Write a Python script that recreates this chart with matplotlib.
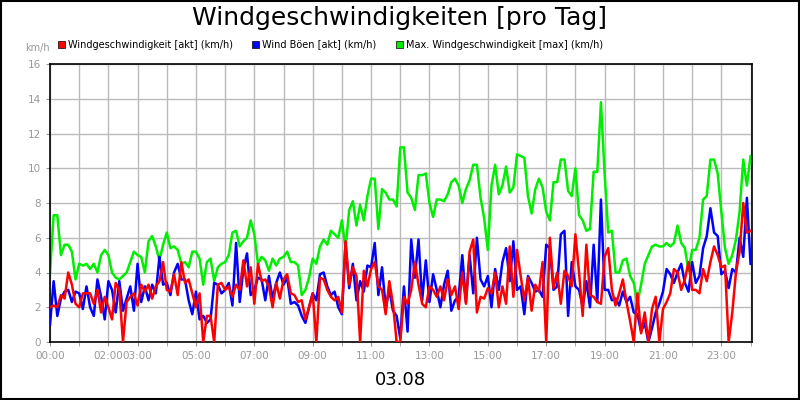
import numpy as np
import matplotlib
matplotlib.use("Agg")
import matplotlib.pyplot as plt
from matplotlib.patches import Rectangle

title = "Windgeschwindigkeiten [pro Tag]"
date_label = "03.08"
series_names = ["Windgeschwindigkeit [akt] (km/h)", "Wind Böen [akt] (km/h)", "Max. Windgeschwindigkeit [max] (km/h)"]
tick_hours = [0, 2, 3, 5, 7, 9, 11, 13, 15, 17, 19, 21, 23]
tick_labels = ["00:00", "02:00", "03:00", "05:00", "07:00", "09:00", "11:00", "13:00", "15:00", "17:00", "19:00", "21:00", "23:00"]

wind = [2.0,2.1,2.0,2.7,2.5,4.0,3.3,2.2, 2.0,2.8,2.8,2.8,2.2,3.0,1.7,2.6, 2.0,1.3,3.4,3.0,0.0,2.3,2.6,2.8,
        2.1,3.3,2.9,3.3,2.5,3.2,3.5,4.6, 3.0,2.9,3.9,2.7,4.6,3.4,3.6,2.8, 2.0,2.8,0.0,1.5,1.5,0.0,3.3,3.4,
        3.0,3.2,2.6,3.3,3.0,4.7,3.2,4.3, 2.2,4.5,3.5,3.6,3.2,2.0,3.4,2.5, 3.6,3.9,2.8,2.7,2.3,2.4,1.3,2.0,
        2.8,0.0,3.7,3.6,3.0,2.6,2.4,2.6, 1.7,5.8,3.3,4.3,3.8,0.0,4.1,3.2, 4.2,4.6,3.2,3.0,1.6,3.5,2.2,0.0,
        0.0,2.6,2.2,3.0,4.6,3.3,2.2,2.0, 3.2,3.0,2.6,3.2,2.4,3.6,2.7,3.2, 1.9,4.0,2.2,5.2,5.9,1.7,2.6,2.5,
        3.1,2.8,4.0,2.0,3.2,2.2,5.5,2.6, 5.3,3.8,2.4,3.7,1.8,3.3,2.9,4.6, 0.0,6.0,3.1,4.0,2.2,4.1,3.8,3.2,
        6.2,4.0,1.5,5.6,2.7,2.6,2.3,2.2, 4.9,5.4,3.0,2.1,2.8,3.6,2.3,1.2, 0.0,2.8,0.5,1.7,0.0,1.9,2.6,0.0,
        1.9,2.3,2.8,4.2,4.0,3.0,3.6,4.6, 3.0,3.0,2.8,4.2,3.5,4.6,5.5,5.0, 4.3,4.4,0.0,1.7,4.0,5.2,8.0,6.3, 6.4]
gusts = [1.0,3.5,1.5,2.5,2.9,3.0,2.3,2.9, 2.8,1.9,3.2,2.0,1.5,3.6,2.6,1.3, 3.5,3.0,1.7,3.5,1.8,2.5,3.2,1.8,
         4.5,2.3,3.2,2.4,3.3,2.8,4.9,3.3, 3.4,2.7,4.0,4.5,3.6,3.6,2.4,1.6, 2.9,1.3,1.5,1.1,1.3,3.4,3.3,2.8,
         3.0,3.4,2.1,5.7,2.3,4.2,5.1,2.7, 3.0,3.7,3.6,2.4,3.8,2.5,3.4,4.0, 3.3,3.7,2.2,2.3,2.1,1.5,1.1,2.0,
         2.8,2.4,3.9,4.0,3.2,2.7,2.9,2.0, 1.6,5.7,3.1,4.5,2.4,3.5,2.9,4.4, 4.3,5.7,2.7,4.3,2.0,3.0,1.8,1.5,
         0.2,3.2,0.6,5.9,3.7,5.9,2.4,4.7, 2.3,3.9,3.0,2.0,3.3,4.1,1.8,2.4, 2.6,5.0,2.3,5.0,2.8,6.0,3.6,3.2,
         3.8,2.0,4.2,3.0,4.6,5.4,3.5,5.8, 3.0,3.2,1.6,3.8,3.4,2.9,3.0,2.6, 5.6,5.4,3.0,3.2,6.2,6.4,1.5,4.6,
         3.2,3.0,2.0,3.5,2.0,5.6,2.3,8.2, 3.0,3.0,2.4,2.5,2.1,2.9,2.3,2.6, 1.7,1.6,0.6,1.1,0.0,0.8,1.7,2.2,
         2.9,4.2,3.9,3.4,4.0,4.5,3.4,2.9, 4.6,3.4,3.8,5.4,6.1,7.7,6.3,6.1, 3.9,4.1,3.1,4.2,4.0,6.0,4.9,8.3, 4.5]
maxwind = [4.0,7.3,7.3,5.0,5.6,5.6,5.2,3.6, 4.5,4.4,4.5,4.2,4.5,4.0,5.0,5.3, 5.0,4.0,3.7,3.6,3.8,4.0,4.6,5.2,
           5.0,4.9,4.0,5.8,6.1,5.5,4.7,5.6, 6.3,5.4,5.5,5.3,4.5,4.6,4.3,5.2, 5.2,4.8,3.3,4.6,4.8,3.5,4.3,4.5,
           4.6,5.0,6.3,6.4,5.5,5.8,6.0,7.0, 6.2,4.5,4.9,4.7,4.1,4.8,4.4,4.8, 4.9,5.2,4.6,4.6,4.4,2.7,3.0,3.7,
           4.8,4.5,5.5,5.9,5.6,6.4,6.2,6.0, 7.0,5.4,7.6,8.1,6.7,7.9,7.0,8.4, 9.4,9.4,6.5,8.8,8.6,8.2,8.2,7.8,
           11.2,11.2,8.6,8.3,7.6,9.6,9.6,9.7, 8.0,7.2,8.2,8.2,8.1,8.5,9.2,9.4, 9.0,8.0,8.8,9.3,10.2,10.2,8.3,7.1,
           5.3,9.0,10.2,8.5,9.0,10.1,8.6,8.9, 10.8,10.7,10.6,8.4,7.4,8.8,9.4,8.9, 7.5,7.0,9.2,9.2,10.5,10.5,8.7,8.4,
           10.0,7.3,7.0,6.4,6.5,9.8,9.8,13.8, 9.7,6.3,6.4,4.0,4.0,4.7,4.8,3.8, 3.4,2.2,3.3,4.5,5.0,5.5,5.6,5.5,
           5.5,5.7,5.5,5.7,6.7,5.7,5.4,4.1, 5.3,5.3,6.0,8.2,8.4,10.5,10.5,9.7, 7.5,5.4,4.5,5.0,5.9,7.5,10.5,9.0, 10.7]

t = np.arange(len(wind)) / 8.0

fig = plt.figure(figsize=(8, 4), dpi=100)
fig.patch.set_facecolor("white")
fig.add_artist(Rectangle((0.001, 0.002), 0.998, 0.996, transform=fig.transFigure,
                         fill=False, edgecolor="black", linewidth=1.5))
ax = fig.add_axes([50/800, 1-342/400, 702/800, 278/400])

ax.plot(t, maxwind, color="#00ee00", lw=1.8, zorder=2)
ax.plot(t, gusts, color="#0000ff", lw=1.8, zorder=3)
ax.plot(t, wind, color="#ff0000", lw=1.8, zorder=4)

ax.set_xlim(0, 24.05)
ax.set_ylim(0, 16)
ax.set_xticks(np.arange(0, 25, 1), minor=True)
ax.set_xticks(tick_hours)
ax.set_xticklabels(tick_labels)
ax.set_yticks(np.arange(0, 17, 2))
ax.grid(True, which="both", color="#bbbbbb", lw=1)
ax.set_axisbelow(True)
ax.tick_params(colors="#999999", labelsize=7.5, length=3)
ax.tick_params(which="minor", length=3, color="#999999")
for s in ax.spines.values():
    s.set_color("black")
    s.set_linewidth(1.2)

fig.text(0.5, 1-18/400, title, ha="center", va="center", fontsize=18)
fig.text(25/800, 1-48/400, "km/h", color="#999999", fontsize=7, va="center")
fig.text(0.5, 1-380/400, date_label, ha="center", va="center", fontsize=13)

colors = ["#ff0000", "#0000ff", "#00ee00"]
xs = [58, 252, 396]
for x, c, name in zip(xs, colors, series_names):
    fig.add_artist(Rectangle((x/800, 1-48/400), 7/800, 7/400, transform=fig.transFigure,
                             facecolor=c, edgecolor="black", lw=0.5))
    fig.text((x+10)/800, 1-44.5/400, name, fontsize=7, va="center")

fig.savefig("out.png", dpi=100)
